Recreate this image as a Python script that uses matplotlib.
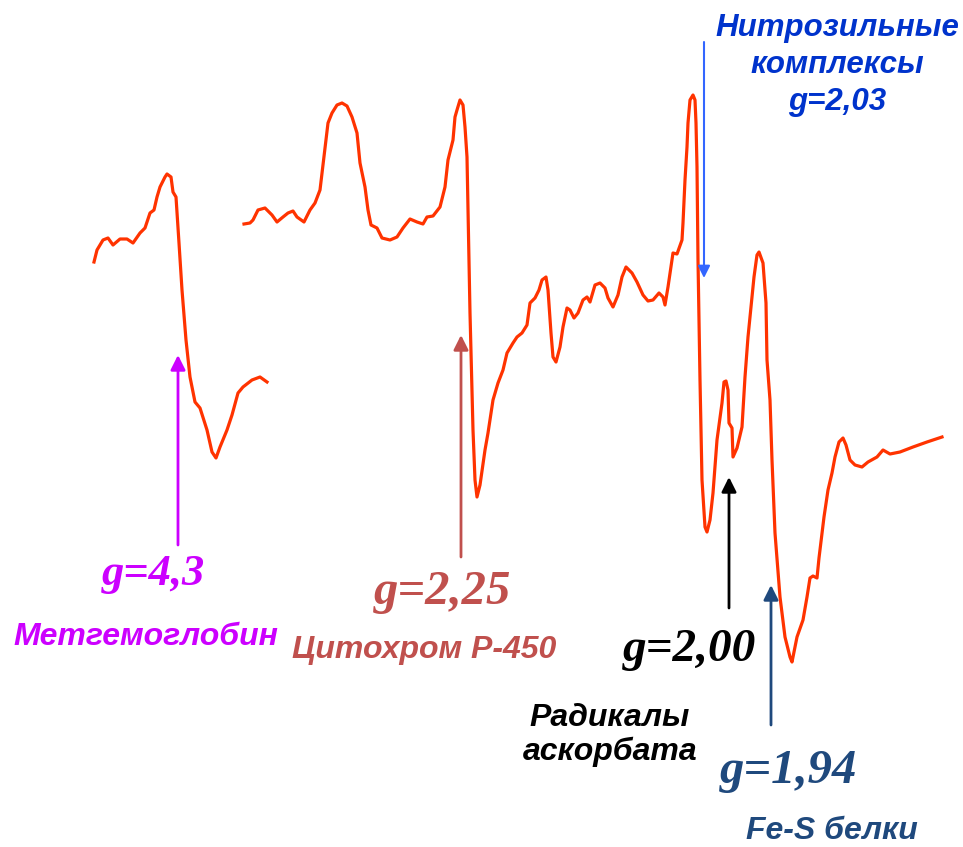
import matplotlib.pyplot as plt

# ЭПР спектр (условные единицы: поле по x, сигнал по y, ось y вниз)
field_1 = [94, 97, 103, 108, 113, 120, 127, 133, 140, 145, 150, 154, 157, 160, 165, 167,
           171, 173, 176, 179, 182, 186, 190, 195, 200, 207, 212, 216, 220, 227, 232, 238,
           243, 252, 260, 267]
signal_1 = [262, 250, 240, 238, 245, 239, 239, 243, 233, 228, 213, 210, 197, 187, 177, 174,
            177, 192, 197, 243, 290, 340, 377, 402, 408, 430, 452, 458, 447, 430, 415, 393,
            387, 380, 377, 382]

field_2 = [244, 250, 253, 258, 265, 272, 277, 283, 288, 293, 297, 304, 310, 315, 320, 323,
           328, 332, 337, 342, 347, 352, 357, 360, 365, 368, 371, 377, 382, 390, 397, 403,
           410, 417, 423, 427, 433, 440, 445, 448, 453, 455, 457, 460, 463, 465, 467, 470,
           473, 475, 477, 480, 485, 488, 493, 498, 503, 507, 513, 517, 522, 527, 530, 535,
           539, 542, 546, 548, 551, 553, 556, 560, 563, 567, 570, 574, 578, 583, 587, 590,
           595, 600, 605, 608, 613, 618, 622, 626, 632, 637, 643, 648, 653, 659, 663, 665,
           668, 671, 673, 677, 682, 683, 685, 687, 688, 690, 693, 695, 696, 697, 698, 700,
           702, 705, 707, 710, 713, 717, 722, 724, 726, 728, 729, 732, 733, 737, 742, 745,
           748, 751, 754, 757, 759, 763, 766, 767, 770, 772, 775, 780, 785, 790, 792, 797,
           803, 807, 810, 813, 817, 819, 824, 828, 832, 835, 839, 843, 846, 850, 855, 862,
           868, 877, 883, 890, 900, 913, 927, 942]
signal_2 = [224, 223, 220, 210, 208, 215, 222, 217, 213, 211, 217, 222, 210, 203, 190, 165,
            123, 113, 105, 103, 106, 117, 133, 163, 187, 210, 225, 228, 238, 240, 237, 228,
            219, 222, 224, 217, 216, 207, 187, 160, 140, 117, 110, 100, 105, 127, 157, 313,
            430, 480, 497, 485, 450, 433, 400, 383, 370, 353, 343, 337, 333, 325, 303, 298,
            290, 280, 277, 290, 333, 357, 362, 347, 327, 308, 310, 318, 313, 300, 297, 302,
            285, 283, 288, 298, 307, 295, 277, 267, 273, 282, 295, 301, 300, 293, 297, 305,
            287, 267, 253, 254, 240, 223, 180, 147, 123, 100, 95, 100, 123, 167, 260, 380,
            480, 527, 532, 520, 493, 440, 403, 382, 381, 390, 423, 428, 457, 448, 427, 377,
            337, 307, 277, 255, 252, 263, 303, 360, 400, 460, 533, 597, 637, 657, 662, 637,
            620, 597, 578, 576, 578, 558, 517, 490, 473, 457, 442, 438, 445, 460, 465, 467,
            462, 457, 450, 454, 452, 447, 442, 437]

# подписи g-факторов
g_labels = ["g=4,3", "g=2,25", "g=2,00", "g=1,94"]
g_names = ["Метгемоглобин", "Цитохром Р-450", "Радикалы\nаскорбата", "Fe-S белки"]
g_colors = ["#CC00FF", "#C0504D", "#000000", "#1F497D"]
arrow_x = [178, 461, 729, 771]
arrow_from = [545, 557, 608, 725]
arrow_to = [355, 335, 477, 585]
g_pos = [(153, 574, 32), (443, 592, 35), (689, 650, 34), (789, 771, 35)]
name_pos = [(146, 637), (424, 650), (610, 735), (832, 831)]

fig = plt.figure(figsize=(9.63, 8.47), dpi=100)
ax = fig.add_axes([0, 0, 1, 1])
ax.set_xlim(0, 963)
ax.set_ylim(847, 0)
ax.axis('off')

ax.plot(field_1, signal_1, color='#FF3300', lw=2.3, solid_joinstyle='round')
ax.plot(field_2, signal_2, color='#FF3300', lw=2.3, solid_joinstyle='round')

for i in range(len(g_labels)):
    c = g_colors[i]
    ax.annotate('', xy=(arrow_x[i], arrow_to[i]), xytext=(arrow_x[i], arrow_from[i]),
                arrowprops=dict(arrowstyle='-|>', color=c, lw=2, mutation_scale=22,
                                shrinkA=0, shrinkB=0))
    gx, gy, fs = g_pos[i]
    ax.text(gx, gy, g_labels[i], color=c, fontsize=fs, family='Liberation Serif',
            weight='bold', style='italic', ha='center', va='center')
    nx, ny = name_pos[i]
    ax.text(nx, ny, g_names[i], color=c, fontsize=23, family='Liberation Sans',
            weight='bold', style='italic', ha='center', va='center', linespacing=1.2)

# нитрозильные комплексы
ax.annotate('', xy=(704, 278), xytext=(704, 42),
            arrowprops=dict(arrowstyle='-|>', color='#3366FF', lw=1.5, mutation_scale=18,
                            shrinkA=0, shrinkB=0))
ax.text(837, 65, "Нитрозильные\nкомплексы\ng=2,03", color='#0033CC', fontsize=22.5,
        family='Liberation Sans', weight='bold', style='italic', ha='center', va='center',
        linespacing=1.3)

fig.savefig('out.png', dpi=100)
